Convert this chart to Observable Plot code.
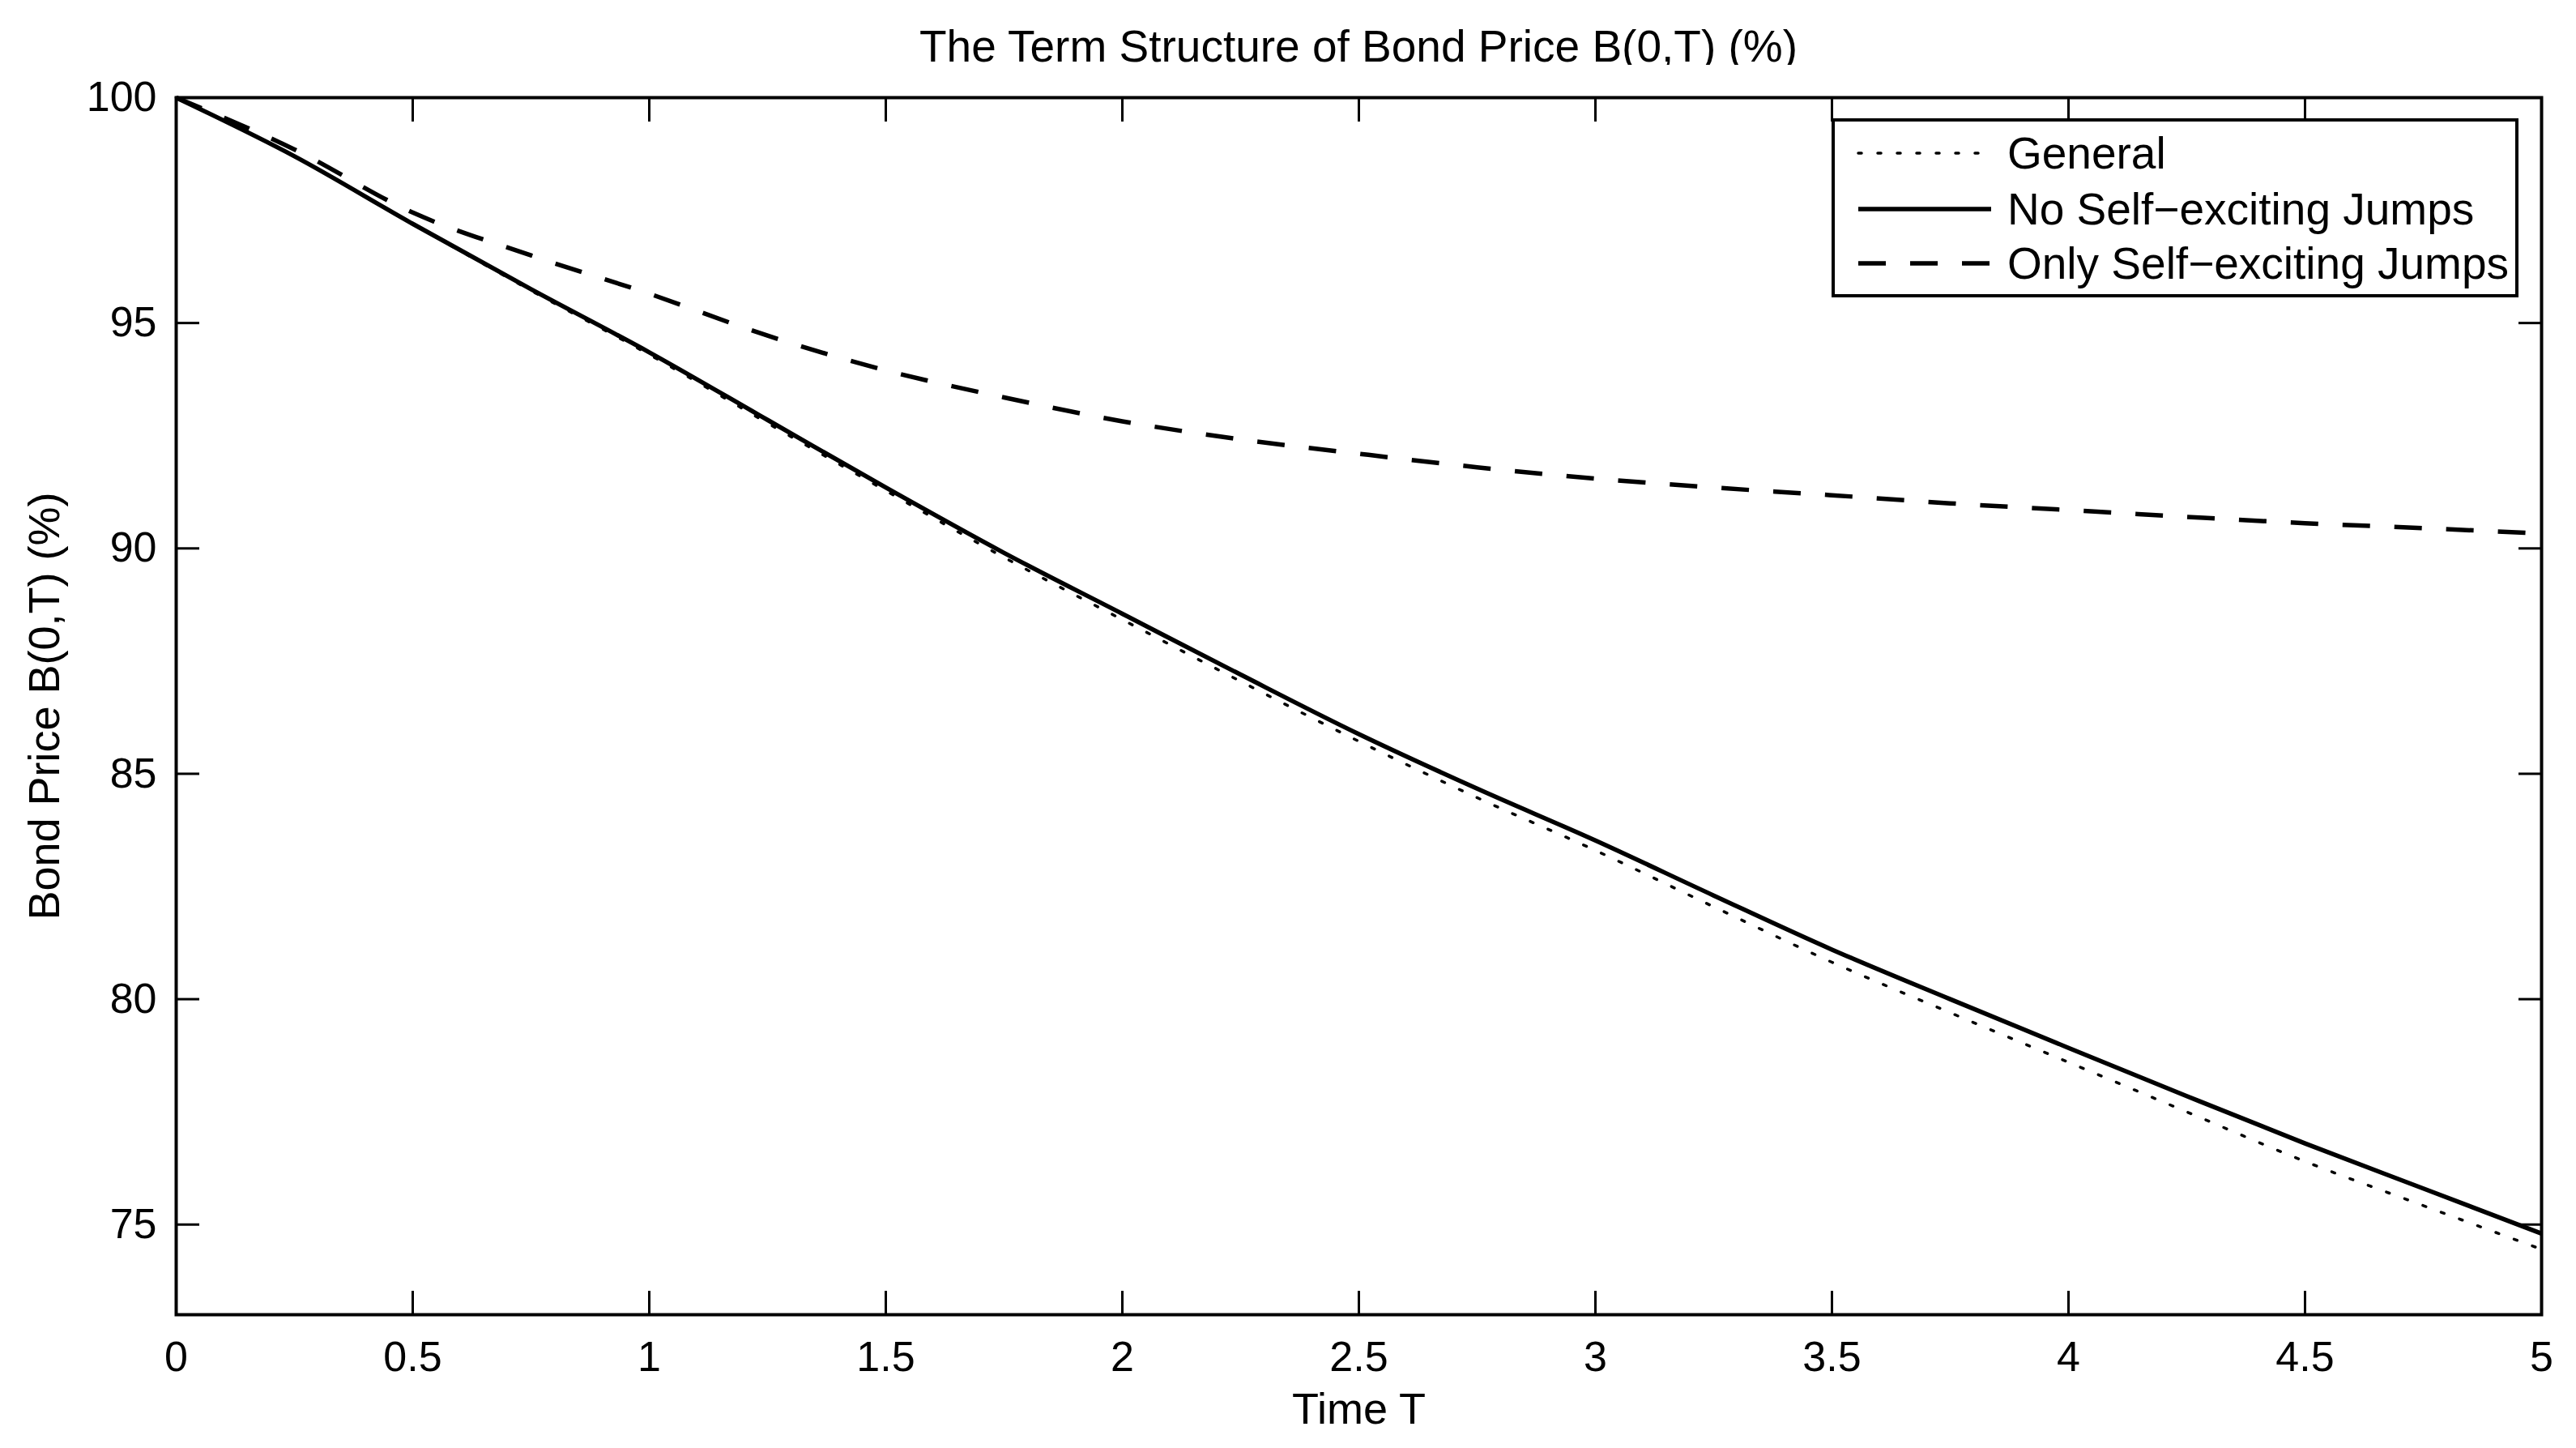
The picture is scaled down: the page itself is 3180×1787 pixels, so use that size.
<!DOCTYPE html>
<html>
<head>
<meta charset="utf-8">
<script src="https://cdn.jsdelivr.net/npm/d3@7"></script>
<script src="https://cdn.jsdelivr.net/npm/@observablehq/plot@0.6"></script>
<style>
  body { margin: 0; background: #fff; }
  #wrap { position: relative; width: 3180px; height: 1787px; background: #fff;
          font-family: "Liberation Sans", Arial, Helvetica, sans-serif; color: #000; }
  #title { position: absolute; left: 217px; width: 2920px; top: 26px; height: 62px;
           line-height: 62px; text-align: center; font-size: 55px; white-space: nowrap; }
  #chart { position: absolute; left: 0; top: 80px; }
  #legend { position: absolute; left: 2261px; top: 146px; }
</style>
</head>
<body>
<div id="wrap">
  <div id="title">The Term Structure of Bond Price B(0,T) (%)</div>
  <div id="chart"></div>
  <div id="legend"></div>
</div>
<script>
// ---- data ----
const timeT = [0, 0.25, 0.5, 0.75, 1, 1.25, 1.5, 1.75, 2, 2.25, 2.5, 2.75, 3, 3.25, 3.5, 3.75, 4, 4.25, 4.5, 4.75, 5];
const general = [100, 98.7, 97.2, 95.72, 94.3, 92.78, 91.28, 89.8, 88.42, 87.05, 85.72, 84.47, 83.3, 82.05, 80.82, 79.7, 78.6, 77.5, 76.4, 75.42, 74.45];
const noSelfExciting = [100, 98.7, 97.2, 95.75, 94.35, 92.85, 91.35, 89.9, 88.55, 87.2, 85.88, 84.67, 83.52, 82.3, 81.1, 80.0, 78.92, 77.85, 76.8, 75.8, 74.8];
const onlySelfExciting = [100, 98.85, 97.45, 96.5, 95.65, 94.72, 93.95, 93.35, 92.82, 92.42, 92.1, 91.8, 91.55, 91.35, 91.18, 91.0, 90.85, 90.7, 90.56, 90.45, 90.33];
const seriesNames = ["General", "No Self\u2212exciting Jumps", "Only Self\u2212exciting Jumps"];
const seriesDash = ["4,20", null, "34,30"];
const xTicks = [0, 0.5, 1, 1.5, 2, 2.5, 3, 3.5, 4, 4.5, 5];
const yTicks = [75, 80, 85, 90, 95, 100];
const xLabel = "Time T";
const yLabel = "Bond Price B(0,T) (%)";

const seriesValues = [general, noSelfExciting, onlySelfExciting];
const rows = [];
seriesValues.forEach((vals, s) => vals.forEach((v, i) => rows.push({T: timeT[i], v, s})));

const lineW = 5.5;
const lineMarks = seriesValues.map((vals, s) =>
  Plot.line(rows.filter(r => r.s === s), {
    x: "T", y: "v", stroke: "#000", strokeWidth: s === 0 ? 3.5 : lineW,
    strokeDasharray: seriesDash[s] || undefined,
    strokeLinecap: s === 0 ? "round" : "butt",
    curve: "monotone-x"
  })
);

const fontFam = "Liberation Sans, Arial, Helvetica, sans-serif";
const labelSize = 54, tickFont = 52;
const chart = Plot.plot({
  width: 3180, height: 1707,
  marginLeft: 217, marginRight: 43, marginTop: 40, marginBottom: 165,
  style: {fontFamily: fontFam, fontSize: "52px", color: "#000", background: "#fff", overflow: "visible"},
  x: {domain: [0, 5], label: null},
  y: {domain: [73, 100], label: null},
  marks: [
    ...lineMarks,
    Plot.frame({stroke: "#000", strokeWidth: 4}),
    Plot.axisX(xTicks, {anchor: "bottom", tickSize: -29, tickPadding: 62, strokeWidth: 3, label: null, tickFormat: d => String(d), fontSize: tickFont}),
    Plot.axisX(xTicks, {anchor: "top", tickSize: -29, strokeWidth: 3, label: null, tickFormat: () => ""}),
    Plot.axisY(yTicks, {anchor: "left", tickSize: -29, tickPadding: 53, strokeWidth: 3, label: null, tickFormat: d => String(d), fontSize: tickFont}),
    Plot.axisY(yTicks, {anchor: "right", tickSize: -29, strokeWidth: 3, label: null, tickFormat: () => ""}),
    Plot.text([xLabel], {text: d => d, frameAnchor: "bottom", dy: 134, fontSize: labelSize}),
    Plot.text([yLabel], {text: d => d, frameAnchor: "left", textAnchor: "middle", rotate: -90, dx: -162, fontSize: labelSize})
  ]
});
document.getElementById("chart").appendChild(chart);

// ---- legend ----
const lw = 848, lh = 221;
const rowY = [43, 112, 179];
const leg = d3.select("#legend").append("svg").attr("width", lw).attr("height", lh)
  .style("overflow", "visible");
leg.append("rect").attr("x", 2).attr("y", 2).attr("width", lw - 4).attr("height", lh - 4)
  .attr("fill", "#fff").attr("stroke", "#000").attr("stroke-width", 4);
seriesNames.forEach((name, s) => {
  leg.append("line").attr("x1", 33).attr("x2", 197).attr("y1", rowY[s]).attr("y2", rowY[s])
    .attr("stroke", "#000").attr("stroke-width", s === 0 ? 3.5 : lineW)
    .attr("stroke-dasharray", seriesDash[s])
    .attr("stroke-linecap", s === 0 ? "round" : "butt");
  leg.append("text").attr("x", 217).attr("y", rowY[s]).attr("dy", "0.35em")
    .attr("font-family", fontFam).attr("font-size", 55).text(name);
});
</script>
</body>
</html>
